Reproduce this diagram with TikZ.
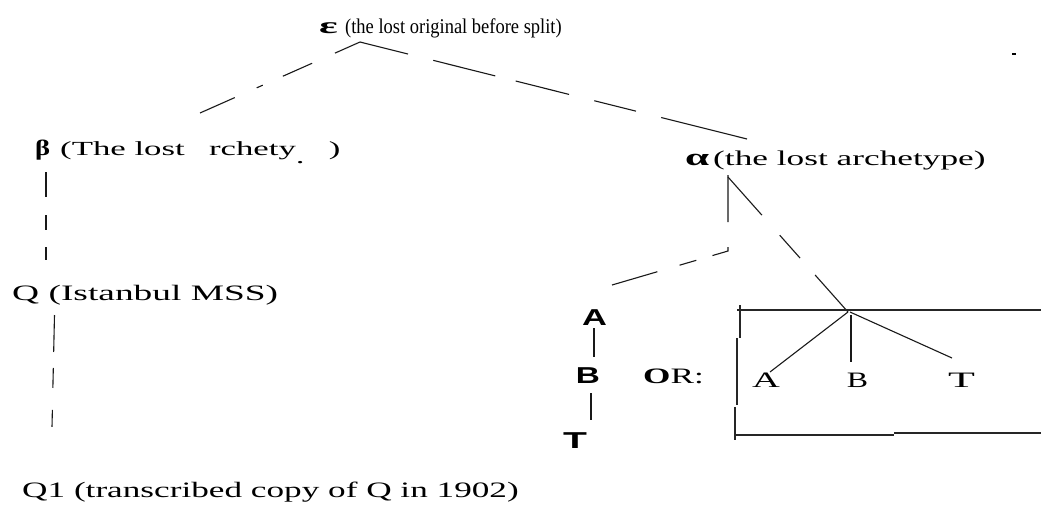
\documentclass[tikz,border=0pt]{standalone}
\usepackage{fontspec}
\setmainfont{Liberation Serif}
\newfontfamily\sansfam{Liberation Sans}
\usepackage{graphicx}
\newcommand\sx[3]{{\fontsize{#2}{#2}\selectfont\scalebox{#1}[1]{#3}}}
\begin{document}
\begin{tikzpicture}[x=1pt,y=-1pt,
  lbl/.style={inner sep=0pt, anchor=base west},
  ctr/.style={inner sep=0pt, anchor=base},
  ln/.style={line width=1.1pt, black!90},
  boxln/.style={line width=1.4pt, black!85}]
\fill[white] (0,0) rectangle (1041,504);
\useasboundingbox (0,0) rectangle (1041,504);

% labels
\node[lbl] (eps) at (319,33) {\makebox[26pt][l]{\sx{1.9}{23}{\bfseries ε}}\sx{0.88}{21}{(the lost original before split)}};
\node[lbl] (beta) at (35,155) {\makebox[25pt][l]{\sx{1.3}{22}{\bfseries β}}\sx{1.74}{20}{(The lost \phantom{a}rchety\rlap{\raisebox{-8pt}{.}}\phantom{pe})}};
\node[lbl] (alpha) at (685,165) {\makebox[28pt][l]{\sx{1.8}{24}{\bfseries α}}\sx{1.68}{21}{(the lost archetype)}};
\node[lbl] (q) at (12,300) {\sx{1.7}{22}{Q (Istanbul MSS)}};
\node[lbl] (q1) at (22,497) {\sx{1.6}{22}{Q1 (transcribed copy of Q in 1902)}};
\node[lbl] (or) at (643,383) {\sx{1.6}{22}{\textbf{O}R:}};
\node[ctr] (bA) at (594.5,325) {\sx{1.5}{23}{\sansfam\bfseries A}};
\node[ctr] (bB) at (588,383) {\sx{1.45}{23}{\sansfam\bfseries B}};
\node[ctr] (bT) at (575,448) {\sx{1.7}{23}{\sansfam\bfseries T}};
\node[ctr] (rA) at (766,387) {\sx{1.75}{22}{A}};
\node[ctr] (rB) at (857.5,387) {\sx{1.45}{22}{B}};
\node[ctr] (rT) at (961.5,387) {\sx{2.0}{22}{T}};

% connector end points
\coordinate (eapex) at (360,42);
\coordinate (betaend) at (200,113);
\coordinate (alphaend) at (747,139);
\coordinate (bt1) at (46,172);
\coordinate (bt2) at (46,260);
\coordinate (qt1) at (54.5,315);
\coordinate (qt2) at (52,427);
\coordinate (al1) at (728,175);
\coordinate (al2) at (728,251);
\coordinate (al3) at (612,285);
\coordinate (knot) at (848,312);
\coordinate (kA) at (770,372);
\coordinate (kB1) at (851,315);
\coordinate (kB2) at (851,362);
\coordinate (kT) at (952,358);

% epsilon branches
\draw[ln, dash pattern=on 27.4pt off 25pt on 32pt off 22pt on 6.6pt off 24pt on 38.3pt off 10pt] (eapex) -- (betaend);
\draw[ln, dash pattern=on 49.5pt off 26pt on 64pt off 21pt on 55pt off 26pt on 43pt off 26pt on 90pt off 10pt] (eapex) -- (alphaend);

% beta -> Q -> Q1
\draw[ln, dash pattern=on 25pt off 18pt on 15pt off 17pt on 13pt off 5pt] (bt1) -- (bt2);
\draw[ln, dash pattern=on 37pt off 16pt on 20pt off 22pt on 17pt off 5pt] (qt1) -- (qt2);

% alpha branches
\draw[ln, dash pattern=on 47pt off 25pt on 20.2pt off 16.8pt on 17.5pt off 23.1pt on 47.5pt off 5pt] (al1) -- (al2) -- (al3);
\draw[ln, dash pattern=on 51pt off 26.9pt on 30.5pt off 22.7pt on 49.6pt off 5pt] (728,177) -- (knot);

% A - B - T (left)
\draw[ln] (594,328) -- (594,357);
\draw[ln] (591,393) -- (591,420);

% knot to A, B, T
\draw[ln] (knot) -- (kA);
\draw[ln] (kB1) -- (kB2);
\draw[ln] (850,312) -- (kT);

% box
\draw[boxln] (737,310) -- (1041,310);
\draw[boxln] (740,305) -- (740,338);
\draw[boxln] (737,338) -- (737,405);
\draw[boxln] (735,407) -- (735,440);
\draw[boxln] (735,435) -- (894,435);
\draw[boxln] (894,433) -- (1041,433);

% speck
\fill (1012,53) rectangle (1016,55);
\end{tikzpicture}
\end{document}
